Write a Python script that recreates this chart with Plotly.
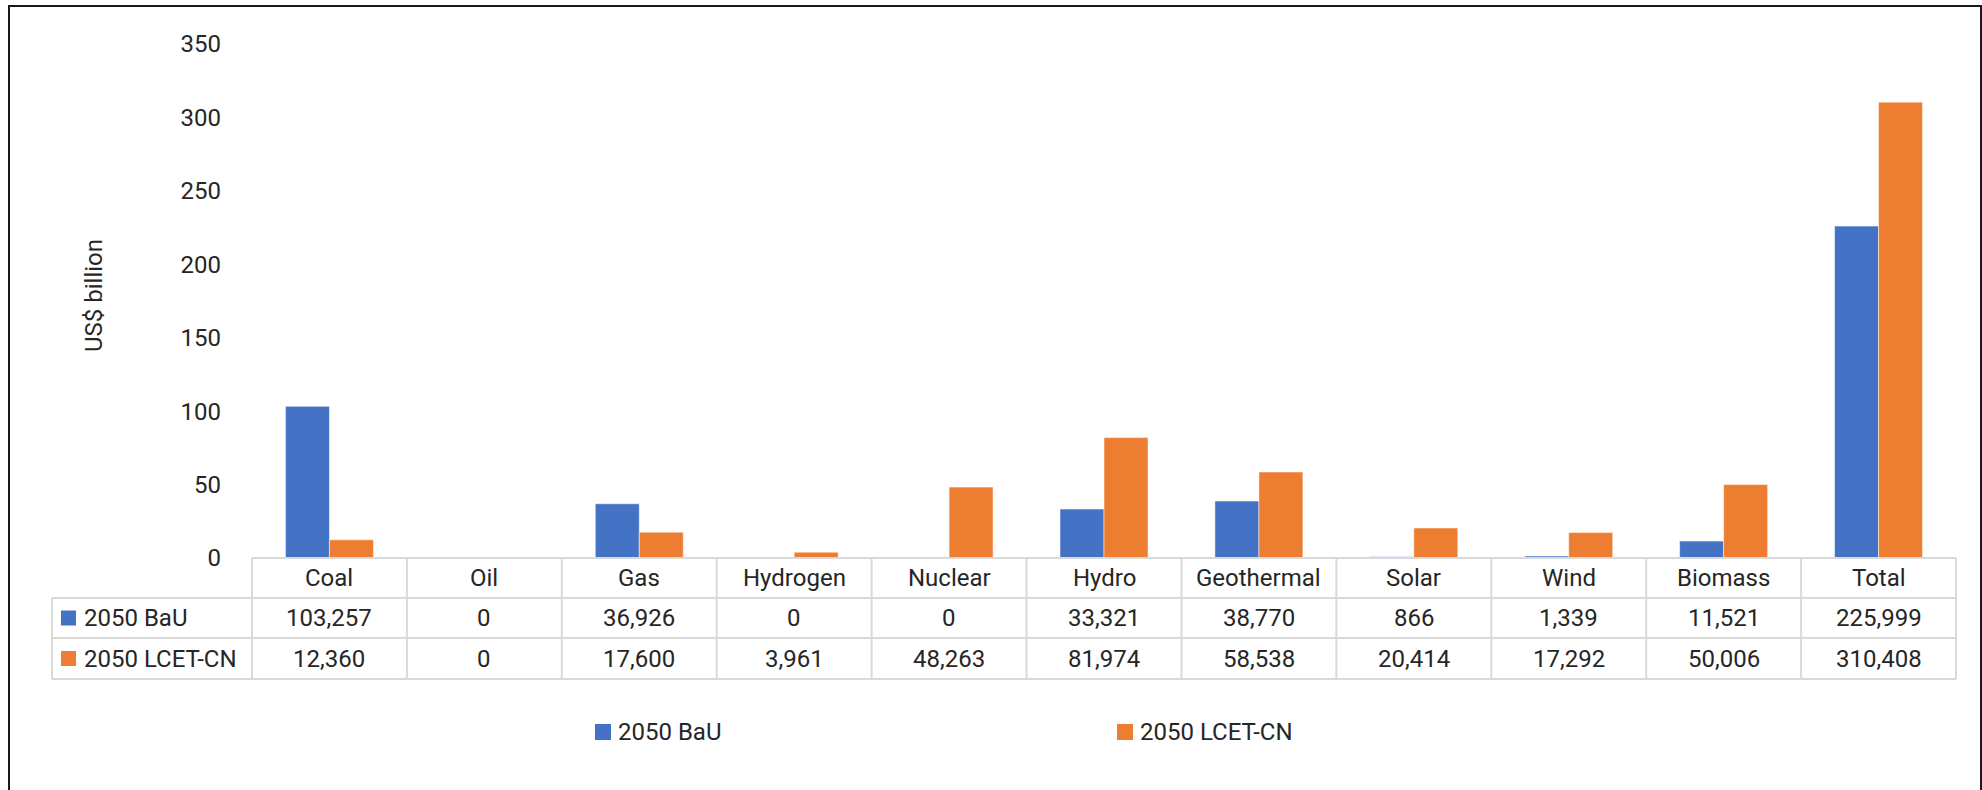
import plotly.graph_objects as go

categories = ["Coal", "Oil", "Gas", "Hydrogen", "Nuclear", "Hydro", "Geothermal",
              "Solar", "Wind", "Biomass", "Total"]
series_names = ["2050 BaU", "2050 LCET-CN"]
bau = [103257, 0, 36926, 0, 0, 33321, 38770, 866, 1339, 11521, 225999]
lcet = [12360, 0, 17600, 3961, 48263, 81974, 58538, 20414, 17292, 50006, 310408]
y_ticks = [0, 50, 100, 150, 200, 250, 300, 350]

BLUE = "#4472C4"
ORANGE = "#ED7D31"
GRID = "#D9D9D9"
TXT = "#262626"
FONT = "Roboto"
FS = 24

W, H = 1982, 790
L, R = 252, 1956          # plot area pixel x
T, B = 44, 558            # plot area pixel y (350 -> T, 0 -> B)
PW, PH = R - L, B - T


def px(x):
    return (x - L) / PW


def py(y):
    return (B - y) / PH


fig = go.Figure()
fig.add_trace(go.Bar(x=categories, y=[v / 1000 for v in bau], name=series_names[0],
                     marker=dict(color=BLUE, line=dict(color="rgba(255,255,255,0.5)", width=1))))
fig.add_trace(go.Bar(x=categories, y=[v / 1000 for v in lcet], name=series_names[1],
                     marker=dict(color=ORANGE, line=dict(color="rgba(255,255,255,0.5)", width=1))))

shapes = []
annotations = []

# outer frame
shapes.append(dict(type="rect", xref="paper", yref="paper",
                   x0=px(9), x1=px(1981), y0=py(6), y1=py(820),
                   line=dict(color="#1a1a1a", width=2), fillcolor="rgba(0,0,0,0)"))

# data table
n = len(categories)
cw = PW / n
row_y = [558, 598, 638, 679]
leg_left = 52
lc = dict(color=GRID, width=2)
# horizontal lines
shapes.append(dict(type="line", xref="paper", yref="paper", x0=px(L), x1=px(R),
                   y0=py(row_y[0]), y1=py(row_y[0]), line=lc))
for yy in row_y[1:]:
    shapes.append(dict(type="line", xref="paper", yref="paper", x0=px(leg_left), x1=px(R),
                       y0=py(yy), y1=py(yy), line=lc))
# vertical lines
for i in range(n + 1):
    xx = L + i * cw
    shapes.append(dict(type="line", xref="paper", yref="paper", x0=px(xx), x1=px(xx),
                       y0=py(row_y[0]), y1=py(row_y[3]), line=lc))
shapes.append(dict(type="line", xref="paper", yref="paper", x0=px(leg_left), x1=px(leg_left),
                   y0=py(row_y[1]), y1=py(row_y[3]), line=lc))

row_centers = [(row_y[k] + row_y[k + 1]) / 2 for k in range(3)]
for i, c in enumerate(categories):
    cx = L + (i + 0.5) * cw
    annotations.append(dict(x=px(cx), y=py(row_centers[0]), xref="paper", yref="paper",
                            text=c, showarrow=False, xanchor="center", yanchor="middle",
                            font=dict(family=FONT, size=FS, color=TXT)))
    for k, vals in enumerate([bau, lcet]):
        annotations.append(dict(x=px(cx), y=py(row_centers[k + 1]), xref="paper", yref="paper",
                                text=f"{vals[i]:,}", showarrow=False, xanchor="center",
                                yanchor="middle", font=dict(family=FONT, size=FS, color=TXT)))

# table row legend keys
for k, (name, col) in enumerate(zip(series_names, [BLUE, ORANGE])):
    cy = row_centers[k + 1]
    shapes.append(dict(type="rect", xref="paper", yref="paper", x0=px(61), x1=px(76),
                       y0=py(cy - 7.5), y1=py(cy + 7.5), line=dict(width=0), fillcolor=col))
    annotations.append(dict(x=px(82), y=py(cy), xref="paper", yref="paper", text=name,
                            showarrow=False, xanchor="left", yanchor="middle",
                            font=dict(family=FONT, size=FS, color=TXT)))

# bottom legend
for name, col, mx in zip(series_names, [BLUE, ORANGE], [595, 1117]):
    cy = 732
    shapes.append(dict(type="rect", xref="paper", yref="paper", x0=px(mx), x1=px(mx + 16),
                       y0=py(cy - 8), y1=py(cy + 8), line=dict(width=0), fillcolor=col))
    annotations.append(dict(x=px(mx + 21), y=py(cy), xref="paper", yref="paper", text=name,
                            showarrow=False, xanchor="left", yanchor="middle",
                            font=dict(family=FONT, size=FS, color=TXT)))

# y axis title
annotations.append(dict(x=px(94), y=py(296), xref="paper", yref="paper", text="US$ billion",
                        textangle=-90, showarrow=False, xanchor="center", yanchor="middle",
                        font=dict(family=FONT, size=FS, color=TXT)))

fig.update_layout(
    width=W, height=H, autosize=False,
    margin=dict(l=L, r=W - R, t=T, b=H - B, pad=0),
    paper_bgcolor="white", plot_bgcolor="white",
    barmode="group", bargap=0.432, bargroupgap=0,
    showlegend=False,
    font=dict(family=FONT, size=FS, color=TXT),
    xaxis=dict(showticklabels=False, showgrid=False, zeroline=False, showline=False,
               ticks="", range=[-0.5, n - 0.5]),
    yaxis=dict(range=[0, 350], tickvals=y_ticks, ticktext=[str(v) for v in y_ticks],
               showgrid=False, zeroline=False, showline=False, ticks="",
               ticklabelstandoff=30, tickfont=dict(family=FONT, size=FS, color=TXT)),
    shapes=shapes, annotations=annotations,
)

fig.write_html("out.html", config={"displayModeBar": False},
               post_script="document.body.style.margin='0px';document.body.style.overflow='hidden';")
